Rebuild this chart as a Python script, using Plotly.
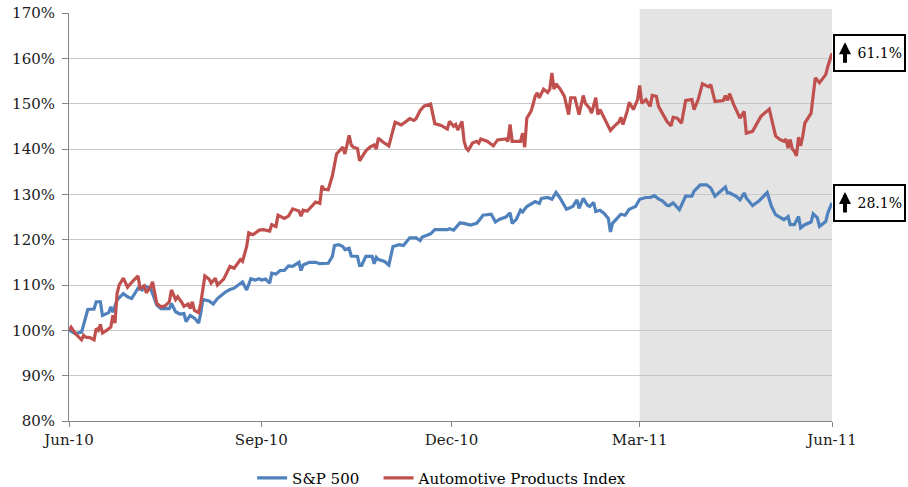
import pandas as pd
import plotly.graph_objects as go

START = "2010-06-01"

# S&P 500 (days since 2010-06-01, index level in %)
sp_days = [0, 3, 6, 8, 9, 12, 13, 15, 16, 19, 20, 21, 23, 26, 28, 30, 33, 35, 36, 39,
           42, 44, 48, 49, 51, 53, 55, 56, 58, 60, 62, 63, 64, 67, 69, 71, 75, 77, 79, 83,
           85, 87, 89, 91, 92, 94, 96, 97, 99, 101, 103, 105, 107, 110, 111, 112, 115, 118, 120, 124,
           126, 127, 129, 131, 132, 134, 135, 138, 139, 140, 142, 145, 146, 147, 148, 151, 153, 155, 158, 160,
           163, 166, 168, 169, 173, 175, 181, 182, 184, 187, 189, 192, 195, 197, 198, 202, 204, 206, 209, 211,
           212, 214, 216, 217, 219, 223, 225, 226, 229, 231, 233, 235, 238, 241, 243, 244, 246, 248, 249, 251,
           252, 254, 256, 258, 259, 260, 263, 264, 266, 268, 269, 271, 273, 276, 278, 280, 282, 284, 286, 287,
           289, 291, 292, 295, 298, 299, 302, 305, 307, 309, 312, 314, 315, 316, 319, 321, 323, 324, 327, 330,
           334, 336, 338, 341, 342, 344, 345, 347, 349, 350, 352, 355, 356, 358, 359, 362, 363, 365]
sp_vals = [100.0, 99.3, 99.6, 103.0, 104.6, 104.7, 106.3, 106.3, 103.3, 103.9, 105.2, 104.0, 106.7, 108.1, 107.4, 107.0, 109.3, 108.9, 109.8, 109.3,
           105.6, 104.8, 104.8, 105.9, 104.1, 103.6, 103.7, 101.9, 103.3, 102.7, 101.6, 103.7, 106.8, 106.5, 105.8, 107.0, 108.5, 109.0, 109.3, 110.7,
           108.9, 111.4, 111.1, 111.4, 111.1, 111.3, 110.4, 112.6, 112.4, 113.2, 113.2, 114.2, 114.1, 115.0, 113.2, 114.4, 115.0, 115.0, 114.7, 114.8,
           116.3, 118.7, 118.9, 118.5, 117.8, 118.1, 116.4, 116.3, 114.3, 114.3, 116.3, 116.3, 114.7, 116.1, 115.6, 115.2, 114.4, 118.5, 118.9, 118.7,
           120.4, 120.4, 119.8, 120.6, 121.3, 122.2, 122.2, 122.4, 122.1, 123.7, 123.6, 123.2, 123.6, 124.7, 125.4, 125.6, 123.9, 124.5, 125.0, 125.9,
           123.6, 124.5, 126.5, 126.1, 127.3, 128.4, 128.0, 129.1, 129.3, 128.9, 130.4, 129.1, 126.7, 127.3, 128.8, 126.9, 129.1, 127.6, 127.3, 128.2,
           126.2, 126.5, 125.8, 124.7, 121.7, 123.6, 125.0, 125.6, 125.4, 126.7, 126.9, 127.3, 128.9, 129.3, 129.3, 129.7, 129.0, 128.5, 127.6, 127.5,
           128.1, 127.2, 126.6, 129.6, 129.6, 130.7, 132.1, 132.1, 131.4, 129.6, 130.7, 131.6, 130.3, 130.3, 129.6, 128.8, 130.3, 129.2, 127.5, 128.5,
           130.4, 127.4, 125.5, 124.8, 124.4, 125.1, 123.3, 123.3, 125.1, 122.6, 123.3, 123.9, 125.7, 124.8, 122.9, 124.0, 125.9, 128.1]

# Automotive Products Index
auto_days = [0, 1, 3, 5, 6, 7, 8, 10, 12, 13, 14, 15, 16, 18, 20, 21, 22, 23, 24, 26,
             28, 30, 33, 34, 36, 37, 39, 40, 42, 44, 46, 48, 49, 51, 52, 54, 55, 57, 58, 59,
             60, 62, 63, 65, 67, 68, 70, 71, 74, 77, 79, 82, 83, 85, 86, 88, 91, 93, 96, 97,
             99, 100, 103, 105, 107, 110, 111, 112, 114, 118, 120, 121, 122, 124, 126, 128, 130, 131, 132, 134,
             135, 136, 138, 139, 142, 144, 146, 147, 148, 150, 153, 156, 159, 162, 163, 165, 166, 168, 170, 173,
             175, 178, 181, 182, 184, 185, 186, 188, 189, 190, 191, 193, 195, 196, 197, 200, 203, 205, 209, 210,
             211, 212, 216, 217, 218, 219, 221, 222, 223, 224, 225, 227, 229, 230, 231, 232, 233, 235, 237, 239,
             240, 242, 244, 246, 247, 249, 250, 252, 253, 254, 256, 257, 259, 261, 263, 264, 265, 267, 268, 270,
             272, 273, 274, 276, 278, 279, 281, 282, 284, 286, 288, 289, 291, 293, 295, 298, 299, 301, 303, 306,
             307, 309, 313, 314, 315, 316, 318, 320, 321, 323, 324, 327, 329, 331, 335, 337, 338, 340, 342, 343,
             344, 345, 346, 347, 348, 349, 350, 351, 352, 355, 356, 357, 359, 362, 363, 364, 365]
auto_vals = [100.0, 100.7, 99.3, 98.5, 97.9, 98.9, 98.5, 98.4, 97.9, 100.4, 100.0, 101.3, 99.4, 100.0, 100.7, 103.3, 101.6, 108.1, 110.0, 111.5,
             109.5, 110.6, 112.0, 109.3, 109.8, 108.3, 109.6, 110.7, 105.9, 105.2, 105.4, 106.3, 108.9, 106.8, 107.4, 106.1, 105.3, 105.8, 104.8, 106.3,
             104.4, 103.9, 105.9, 112.0, 111.3, 110.4, 111.5, 110.0, 111.3, 114.1, 113.7, 115.6, 115.2, 118.5, 121.5, 121.1, 122.1, 122.2, 121.9, 123.3,
             122.9, 125.4, 124.7, 125.2, 126.8, 126.3, 125.2, 126.5, 126.3, 128.3, 128.0, 131.9, 131.1, 131.0, 134.1, 138.9, 140.0, 140.4, 138.9, 143.0,
             140.9, 140.4, 140.1, 137.4, 139.6, 140.4, 140.9, 140.0, 142.4, 141.6, 140.7, 145.9, 145.3, 146.3, 146.7, 146.3, 146.7, 148.5, 149.5, 149.9,
             145.6, 145.2, 144.4, 146.1, 145.0, 145.4, 144.2, 146.1, 141.7, 140.2, 139.7, 141.3, 141.7, 141.3, 142.2, 141.7, 140.7, 142.0, 142.2, 141.7,
             145.4, 141.7, 141.7, 143.5, 140.4, 146.8, 148.3, 149.8, 151.6, 152.4, 151.3, 153.2, 152.5, 153.2, 156.8, 153.2, 154.4, 153.2, 151.6, 147.6,
             151.3, 151.3, 147.6, 151.8, 150.1, 149.0, 147.9, 151.3, 147.6, 148.7, 146.8, 145.7, 144.1, 145.1, 145.9, 147.0, 145.4, 148.3, 150.3, 148.7,
             150.9, 154.0, 150.1, 150.9, 149.4, 151.8, 151.6, 149.4, 147.9, 146.1, 145.1, 147.0, 146.8, 145.7, 150.7, 150.9, 148.7, 150.9, 154.4, 153.7,
             154.2, 150.5, 150.7, 151.8, 150.7, 152.2, 149.8, 147.9, 146.8, 148.3, 143.5, 143.9, 145.4, 147.2, 148.8, 144.6, 142.9, 142.1, 141.7, 142.2,
             140.2, 142.1, 140.0, 139.5, 138.5, 142.6, 140.7, 142.8, 145.7, 147.9, 152.4, 155.7, 154.6, 156.4, 158.2, 159.7, 161.1]

series_names = ["S&P 500", "Automotive Products Index"]
series_colors = ["#4F81BD", "#C0504D"]
tick_dates = ["2010-06-01", "2010-09-01", "2010-12-01", "2011-03-01", "2011-06-01"]
shade_start, shade_end = "2011-03-01", "2011-06-01"

def to_dates(days):
    return pd.Timestamp(START) + pd.to_timedelta(days, unit="D")

FONT = "DejaVu Serif"
fig = go.Figure()
for i, (name, color, days, vals) in enumerate([(series_names[0], series_colors[0], sp_days, sp_vals),
                                               (series_names[1], series_colors[1], auto_days, auto_vals)]):
    legend_label = name + ("\u00a0" * 3 if i == 0 else "")
    fig.add_trace(go.Scatter(x=to_dates(days), y=vals, mode="lines", name=legend_label,
                             line=dict(color=color, width=3.2)))
    # boxed change label
    fig.add_annotation(xref="paper", yref="y", x=1, y=vals[-1], xanchor="left", yanchor="middle",
                       xshift=1, showarrow=False, width=65, height=30, align="right", valign="middle",
                       text=f"{vals[-1]-100:.1f}%",
                       font=dict(family=FONT, size=14, color="black"),
                       bordercolor="black", borderwidth=2, borderpad=2, bgcolor="white")
    # up arrow inside the box
    fig.add_annotation(xref="paper", yref="y", x=1, y=vals[-1], xshift=13, yshift=11,
                       showarrow=True, ax=0, ay=22, arrowhead=2, arrowsize=0.6, arrowwidth=4,
                       arrowcolor="black", text="", standoff=0, startstandoff=0)

fig.add_shape(type="rect", xref="x", yref="paper", x0=shade_start, x1=shade_end, y0=0, y1=1.01,
              fillcolor="#E4E4E4", line=dict(width=0), layer="below")

fig.update_layout(
    width=908, height=487,
    margin=dict(l=69, r=76, t=13, b=66, autoexpand=False),
    paper_bgcolor="white", plot_bgcolor="rgba(0,0,0,0)",
    font=dict(family=FONT, size=15, color="#1a1a1a"),
    showlegend=True,
    legend=dict(orientation="h", x=0.24, xanchor="left", y=-0.14, yanchor="middle",
                itemwidth=30, font=dict(family=FONT, size=15, color="black")),
)
fig.update_xaxes(type="date", range=["2010-06-01", "2011-06-01"], tickvals=tick_dates,
                 tickformat="%b-%y", showgrid=False, showline=True, linecolor="#868686", linewidth=1,
                 ticks="outside", ticklen=5, tickcolor="#868686", automargin=False)
fig.update_yaxes(range=[80, 170], dtick=10, ticksuffix="%", showgrid=True, gridcolor="#C8C8C8",
                 gridwidth=1, showline=True, linecolor="#868686", linewidth=1,
                 ticks="outside", ticklen=6, tickcolor="#868686", zeroline=False,
                 automargin=False, ticklabelstandoff=4)

fig.write_html("out.html", config={"displayModeBar": False},
               post_script="document.body.style.margin='0';")
